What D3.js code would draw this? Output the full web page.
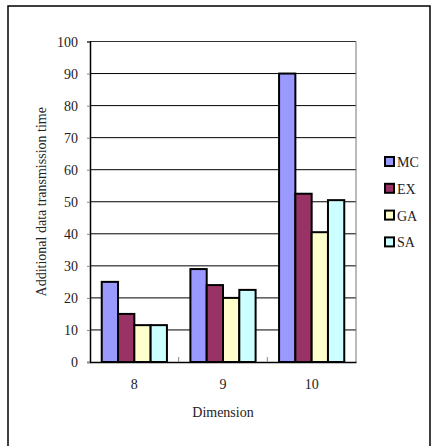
<!DOCTYPE html>
<html><head><meta charset="utf-8">
<script src="https://cdn.jsdelivr.net/npm/d3@7"></script>
<style>body{margin:0;background:#fff}svg{display:block}</style>
</head><body><svg id="c" width="431" height="446"></svg>
<script>
const categories = ["8","9","10"];
const seriesNames = ["MC","EX","GA","SA"];
const MC = [25, 29, 90];
const EX = [15, 24, 52.5];
const GA = [11.5, 20, 40.5];
const SA = [11.5, 22.5, 50.5];
const yTicks = [0,10,20,30,40,50,60,70,80,90,100];
const colors = ["#9999FF","#993366","#FFFFCC","#CCFFFF"];
const seriesValues = [MC, EX, GA, SA];
const FONT = "'Liberation Serif','Times New Roman',Times,serif";

const svg = d3.select("#c");
svg.append("rect").attr("x",8).attr("y",6).attr("width",422).attr("height",460)
  .attr("fill","none").attr("stroke","#000").attr("stroke-width",1.5);

const L=90,R=356,T=41.5,B=362;
const x = d3.scaleBand().domain(categories).range([L,R]).paddingInner(0).paddingOuter(0);
const xs = d3.scaleBand().domain(seriesNames).range([0,x.bandwidth()]).paddingInner(0).paddingOuter(0.72);
const y = d3.scaleLinear().domain([0,100]).range([B,T]);

svg.append("g").selectAll("line").data(yTicks.slice(1,-1)).join("line")
  .attr("x1",L).attr("x2",R).attr("y1",d=>y(d)).attr("y2",d=>y(d))
  .attr("stroke","#000").attr("stroke-width",1);
svg.append("line").attr("x1",L).attr("x2",R).attr("y1",T).attr("y2",T).attr("stroke","#333");
svg.append("line").attr("x1",R).attr("x2",R).attr("y1",T).attr("y2",B).attr("stroke","#777");

seriesValues.forEach((vals,si)=>{
  svg.append("g").selectAll("rect").data(vals).join("rect")
    .attr("x",(d,i)=>x(categories[i])+xs(seriesNames[si]))
    .attr("width",xs.bandwidth())
    .attr("y",d=>y(d)).attr("height",d=>B-y(d))
    .attr("fill",colors[si]).attr("stroke","#000").attr("stroke-width",2);
});

const ya = svg.append("g").attr("transform",`translate(${L},0)`)
  .call(d3.axisLeft(y).tickValues(yTicks).tickSize(3).tickPadding(9));
ya.attr("font-family",null).attr("font-size",null);
ya.select(".domain").attr("stroke","#000").attr("stroke-width",1.5);
ya.selectAll(".tick line").attr("stroke","#888");
ya.selectAll("text").attr("dy","0.35em");

const xa = svg.append("g").attr("transform",`translate(0,${B})`)
  .call(d3.axisBottom(x).tickSize(0).tickPadding(17));
xa.attr("font-family",null).attr("font-size",null);
xa.select(".domain").attr("stroke","#000").attr("stroke-width",1.5);
svg.append("g").selectAll("line").data(categories.slice(1)).join("line")
  .attr("x1",d=>x(d)).attr("x2",d=>x(d)).attr("y1",B-5).attr("y2",B)
  .attr("stroke","#888");

svg.append("text").attr("x",(L+R)/2).attr("y",417).attr("text-anchor","middle").text("Dimension");
svg.append("text").attr("transform",`translate(46,${(T+B)/2}) rotate(-90)`)
  .attr("text-anchor","middle").text("Additional data transmission time");

const lg = svg.append("g").selectAll("g").data(seriesNames).join("g")
  .attr("transform",(d,i)=>`translate(385,${157+i*26.8})`);
lg.append("rect").attr("width",9).attr("height",9).attr("fill",(d,i)=>colors[i])
  .attr("stroke","#000").attr("stroke-width",2);
lg.append("text").attr("x",12).attr("y",10).text(d=>d);

svg.selectAll("text").style("font-family",FONT).style("font-size","14px").attr("fill","#222");
</script></body></html>
